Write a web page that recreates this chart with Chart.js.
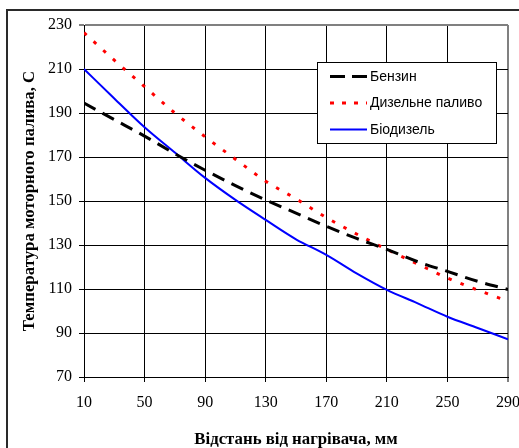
<!DOCTYPE html>
<html>
<head>
<meta charset="utf-8">
<script src="https://cdn.jsdelivr.net/npm/chart.js@4"></script>
<style>
  html, body { margin: 0; padding: 0; background: #fff; overflow: hidden; }
  #wrap { position: relative; width: 519px; height: 448px; overflow: hidden; }
  #frame { position: absolute; left: 6px; top: 9px; width: 600px; height: 600px; border: 2px solid #2a2a2a; }
  canvas { position: absolute; left: 0; top: 0; }
</style>
</head>
<body>
<div id="wrap">
  <div id="frame"></div>
  <canvas id="c" width="519" height="448"></canvas>
</div>
<script>
// Distance from heater, mm
const distances = [10, 30, 50, 70, 90, 110, 130, 150, 170, 190, 210, 230, 250, 270, 290];
// Temperatures, C
const benzin    = [194.5, 187, 179.5, 171.5, 164, 157, 150.5, 144.5, 138.5, 133, 128, 122.5, 118, 113.5, 109.8];
const diesel    = [226.5, 214, 202, 190, 179.2, 169, 159, 151, 142.5, 135, 128, 121.5, 115, 109.5, 104.5];
const biodiesel = [210, 196.6, 183.5, 172, 160.5, 150.5, 141.4, 132.6, 125.5, 117.1, 109.6, 103.6, 97.4, 92.3, 87.1];
const seriesNames = ['Бензин', 'Дизельне паливо', 'Біодизель'];
const xTicks = [10, 50, 90, 130, 170, 210, 250, 290];
const yTicks = [70, 90, 110, 130, 150, 170, 190, 210, 230];

const toPts = arr => arr.map((v, i) => ({x: distances[i], y: v}));

const legendPlugin = {
  id: 'customLegend',
  afterDraw(chart) {
    const ctx = chart.ctx;
    ctx.save();
    ctx.fillStyle = '#fff';
    ctx.fillRect(317.5, 62.5, 179, 81);
    ctx.strokeStyle = '#000';
    ctx.lineWidth = 1;
    ctx.strokeRect(317.5, 62.5, 179, 81);
    const rows = [76.5, 103, 129.5];
    chart.data.datasets.forEach((ds, i) => {
      const y = rows[i];
      ctx.beginPath();
      ctx.strokeStyle = ds.borderColor;
      ctx.lineWidth = ds.borderWidth;
      ctx.setLineDash(ds.legendDash || []);
      ctx.lineCap = 'butt';
      ctx.moveTo(330, y);
      ctx.lineTo(367, y);
      ctx.stroke();
      ctx.setLineDash([]);
      ctx.fillStyle = '#000';
      ctx.font = '14px "Liberation Sans", Arial, sans-serif';
      ctx.textBaseline = 'middle';
      ctx.textAlign = 'left';
      ctx.fillText(ds.label, 370, y + 0.5);
    });
    ctx.restore();
  }
};

new Chart(document.getElementById('c'), {
  type: 'line',
  data: {
    datasets: [
      { label: seriesNames[0], data: toPts(benzin), borderColor: '#000000', borderWidth: 3,
        borderDash: [13, 8], legendDash: [15, 7], pointRadius: 0, cubicInterpolationMode: 'monotone', fill: false },
      { label: seriesNames[1], data: toPts(diesel), borderColor: '#ff0000', borderWidth: 3,
        borderDash: [3.5, 9.5], legendDash: [4, 8], pointRadius: 0, cubicInterpolationMode: 'monotone', fill: false },
      { label: seriesNames[2], data: toPts(biodiesel), borderColor: '#0000ff', borderWidth: 2,
        pointRadius: 0, cubicInterpolationMode: 'monotone', fill: false }
    ]
  },
  options: {
    responsive: false,
    animation: false,
    events: [],
    layout: { padding: { left: 0, top: 25, right: 11, bottom: 0 } },
    plugins: { legend: { display: false }, tooltip: { enabled: false } },
    scales: {
      x: {
        type: 'linear',
        min: 10, max: 290,
        afterBuildTicks: s => { s.ticks = xTicks.map(v => ({value: v})); },
        afterFit: s => { s.height = 71; s.paddingLeft = 0; s.paddingRight = 0; },
        ticks: { color: '#000', padding: 11, maxRotation: 0, autoSkip: false,
          font: { family: '"Liberation Serif", "Times New Roman", serif', size: 16 } },
        grid: { color: ctx => (ctx.tick && ctx.tick.value === 290) ? '#808080' : '#000',
          lineWidth: ctx => (ctx.tick && ctx.tick.value === 290) ? 2 : 1, tickLength: 5 },
        border: { color: '#000', width: 1 },
        title: { display: true, text: 'Відстань від нагрівача, мм', color: '#000',
          padding: { top: 0, bottom: 0 },
          font: { family: '"Liberation Serif", "Times New Roman", serif', size: 16.8, weight: 'bold', lineHeight: 1 } }
      },
      y: {
        min: 70, max: 230,
        afterBuildTicks: s => { s.ticks = yTicks.map(v => ({value: v})); },
        afterFit: s => { s.width = 84; s.paddingTop = 0; s.paddingBottom = 0; },
        ticks: { color: '#000', padding: 7, autoSkip: false,
          font: { family: '"Liberation Serif", "Times New Roman", serif', size: 16 } },
        grid: { color: ctx => (ctx.tick && ctx.tick.value === 230) ? '#808080' : '#000',
          lineWidth: ctx => (ctx.tick && ctx.tick.value === 230) ? 2 : 1, tickLength: 5 },
        border: { color: '#000', width: 1 },
        title: { display: true, text: 'Температура моторного палива, С', color: '#000',
          padding: { top: 21, bottom: 0 },
          font: { family: '"Liberation Serif", "Times New Roman", serif', size: 16.8, weight: 'bold', lineHeight: 1 } }
      }
    }
  },
  plugins: [legendPlugin]
});
</script>
</body>
</html>
